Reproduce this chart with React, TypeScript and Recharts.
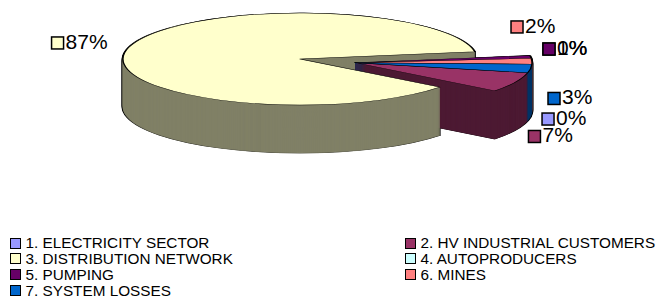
import React from 'react';
import { PieChart, Pie, Cell } from 'recharts';

// ---- data ----
const CATEGORIES = [
  '1. ELECTRICITY SECTOR',
  '2. HV INDUSTRIAL CUSTOMERS',
  '3. DISTRIBUTION NETWORK',
  '4. AUTOPRODUCERS',
  '5. PUMPING',
  '6. MINES',
  '7. SYSTEM LOSSES',
];
const SHARES = [0, 7, 87, 0, 1, 2, 3];
const TOP_COLORS = ['#9999FF', '#993366', '#FFFFCC', '#CCFFFF', '#660066', '#FF8080', '#0066CC'];
const SIDE_COLORS = ['#4D4D80', '#4D1A33', '#808066', '#668080', '#330033', '#804040', '#003366'];
const EXPLODED = [true, true, false, true, true, true, true];

const DATA = CATEGORIES.map((name, i) => ({ name, value: SHARES[i] }));

// ---- geometry (screen px) ----
const K = 46 / 177; // vertical squash of the pie plane
const R = 177;
const CX = 300;
const CY = 59 / K;
const EX_DX = 55;
const EX_DY = 3.7 / K;
const DEPTH = 48;
const START = -12.6;
const SVG_H = 650;
const FONT = '"Liberation Sans", Arial, Helvetica, sans-serif';

// label key-square offset from the rim point at the slice's mid angle (screen px)
const LABEL_NUDGE: [number, number][] = [
  [20.3, 46.3],
  [19.3, 54.2],
  [-71, -4.6],
  [19.1, -6.5],
  [18.4, -7.9],
  [-14.9, -34.3],
  [23.4, 30],
];

const makeLabel = (owned: (i: number) => boolean) => (props: any) => {
  const { index, midAngle, cx, cy, value } = props;
  if (!owned(index)) return null;
  const rad = (-midAngle * Math.PI) / 180;
  const rx = cx + R * Math.cos(rad);
  const rySvg = cy + R * Math.sin(rad);
  const sx = rx + LABEL_NUDGE[index][0];
  const sy = rySvg * K + LABEL_NUDGE[index][1];
  return (
    <g key={`lab-${index}`} transform={`translate(${sx},${sy / K}) scale(1,${1 / K})`}>
      <rect x={-6} y={-6} width={12} height={12} fill={TOP_COLORS[index]} stroke="#000" strokeWidth={1.5} />
      <text x={8} y={5.8} fontSize={21} fontFamily={FONT} fill="#000">
        {`${value}%`}
      </text>
    </g>
  );
};

type Mode = 'shadow' | 'side' | 'top';

const slicePie = (
  key: string,
  cx: number,
  cy: number,
  owned: (i: number) => boolean,
  mode: Mode,
) => (
  <Pie
    key={key}
    data={DATA}
    dataKey="value"
    nameKey="name"
    cx={cx}
    cy={cy}
    innerRadius={0}
    outerRadius={R}
    startAngle={START}
    endAngle={START - 360}
    isAnimationActive={false}
    labelLine={false}
    label={mode === 'top' ? makeLabel(owned) : false}
    legendType="none"
  >
    {DATA.map((d, i) => {
      const on = owned(i);
      let fill = 'none';
      let stroke = 'none';
      let sw = 1;
      if (on) {
        if (mode === 'shadow') {
          fill = '#000';
          stroke = '#000';
          sw = 2.6;
        } else if (mode === 'side') {
          fill = SIDE_COLORS[i];
          stroke = SIDE_COLORS[i];
          sw = 1;
        } else {
          fill = TOP_COLORS[i];
          stroke = '#000';
          sw = 1.4;
        }
      }
      return (
        <Cell
          key={`c-${i}`}
          fill={fill}
          stroke={stroke}
          strokeWidth={sw}
          vectorEffect="non-scaling-stroke"
          strokeLinejoin="round"
        />
      );
    })}
  </Pie>
);

const isGroup = (i: number) => EXPLODED[i];
const isBig = (i: number) => !EXPLODED[i];

export default function App() {
  const pies: React.ReactNode[] = [];
  // black silhouette (outline of the whole extruded body)
  for (let j = DEPTH; j >= 0; j--) {
    pies.push(slicePie(`sg${j}`, CX + EX_DX, CY + EX_DY + j / K, isGroup, 'shadow'));
    pies.push(slicePie(`sb${j}`, CX, CY + j / K, isBig, 'shadow'));
  }
  // side walls, deepest first
  for (let j = DEPTH; j >= 1; j--) {
    pies.push(slicePie(`wg${j}`, CX + EX_DX, CY + EX_DY + j / K, isGroup, 'side'));
    pies.push(slicePie(`wb${j}`, CX, CY + j / K, isBig, 'side'));
  }
  // top faces
  pies.push(slicePie('tg', CX + EX_DX, CY + EX_DY, isGroup, 'top'));
  pies.push(slicePie('tb', CX, CY, isBig, 'top'));

  const legendRows = [
    [0, 1],
    [2, 3],
    [4, 5],
    [6],
  ];
  const colX = [10, 405];

  return (
    <div
      style={{
        position: 'absolute',
        left: 0,
        top: 0,
        width: 668,
        height: 298,
        background: '#fff',
        overflow: 'hidden',
        fontFamily: FONT,
      }}
    >
      <div
        style={{
          position: 'absolute',
          left: 0,
          top: 0,
          width: 668,
          height: SVG_H,
          transform: `scaleY(${K})`,
          transformOrigin: '0 0',
        }}
      >
        <PieChart width={668} height={SVG_H} margin={{ top: 0, right: 0, bottom: 0, left: 0 }}>
          {pies}
        </PieChart>
      </div>
      {legendRows.map((row, r) =>
        row.map((idx, c) => {
          const cyRow = 243 + 15.9 * r;
          return (
            <React.Fragment key={`lg-${idx}`}>
              <div
                style={{
                  position: 'absolute',
                  left: colX[c],
                  top: cyRow - 5.5,
                  width: 11,
                  height: 11,
                  boxSizing: 'border-box',
                  border: '1.5px solid #000',
                  background: TOP_COLORS[idx],
                }}
              />
              <div
                style={{
                  position: 'absolute',
                  left: colX[c] + 15.5,
                  top: cyRow - 5.6,
                  fontSize: 15.3,
                  lineHeight: '11px',
                  whiteSpace: 'nowrap',
                  color: '#000',
                }}
              >
                {CATEGORIES[idx]}
              </div>
            </React.Fragment>
          );
        }),
      )}
    </div>
  );
}
